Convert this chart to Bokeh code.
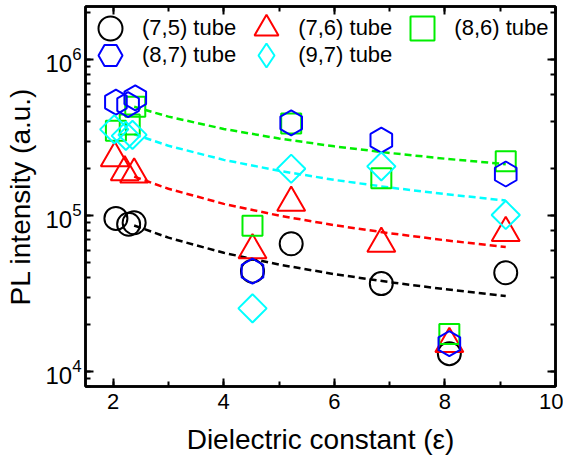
import numpy as np
from bokeh.plotting import figure
from bokeh.models import (Range1d, LinearAxis, LogAxis, Legend, LegendItem,
                          SingleIntervalTicker, LogTicker, CustomLabelingPolicy)
from bokeh.embed import file_html
from bokeh.resources import INLINE

# ---------------- data ----------------
x75 = [2.05, 2.28, 2.38, 4.52, 5.22, 6.85, 8.08, 9.10]
y75 = [9.6e4, 8.8e4, 9.0e4, 4.4e4, 6.6e4, 3.66e4, 1.3e4, 4.3e4]

x76 = [2.03, 2.21, 2.38, 4.52, 5.22, 6.85, 8.08, 9.10]
y76 = [2.34e5, 1.90e5, 1.84e5, 6.0e4, 1.21e5, 6.6e4, 1.5e4, 7.75e4]

x86 = [2.05, 2.30, 2.40, 4.52, 5.22, 6.85, 8.08, 9.10]
y86 = [3.5e5, 3.85e5, 5.0e5, 8.6e4, 3.9e5, 1.74e5, 1.74e4, 2.23e5]

x87 = [2.05, 2.27, 2.40, 4.52, 5.22, 6.85, 8.08, 9.10]
y87 = [5.36e5, 5.15e5, 5.7e5, 4.4e4, 3.94e5, 3.05e5, 1.51e4, 1.85e5]

x97 = [2.02, 2.23, 2.35, 4.52, 5.22, 6.85, 9.10]
y97 = [3.58e5, 3.25e5, 3.3e5, 2.54e4, 2.0e5, 2.07e5, 1.01e5]

# dashed fit curves (read at a few dielectric constants)
fit_x = [2.38, 3.0, 4.0, 5.0, 6.0, 7.0, 8.0, 9.1]
fit75 = [8.64e4, 7.22e4, 5.77e4, 4.85e4, 4.21e4, 3.74e4, 3.37e4, 3.05e4]
fit76 = [1.78e5, 1.487e5, 1.19e5, 1.0e5, 8.68e4, 7.71e4, 6.95e4, 6.28e4]
fit86 = [5.0e5, 4.32e5, 3.60e5, 3.125e5, 2.785e5, 2.525e5, 2.32e5, 2.14e5]
fit97 = [3.33e5, 2.81e5, 2.28e5, 1.94e5, 1.695e5, 1.515e5, 1.375e5, 1.25e5]

labels = ["(7,5) tube", "(7,6) tube", "(8,6) tube", "(8,7) tube", "(9,7) tube"]

# ---------------- figure ----------------
FONT = "Liberation Sans"
W, H = 563, 457
MT, MB, ML, MR = 6, 67, 85, 8
FH = H - MT - MB

p = figure(width=W, height=H,
           x_range=Range1d(1.5, 10), y_range=Range1d(8e3, 2.2e6),
           y_axis_type="log", output_backend="svg", toolbar_location=None,
           min_border_left=ML, min_border_right=MR, min_border_top=MT,
           min_border_bottom=MB)
p.grid.visible = False
p.outline_line_color = "black"
p.outline_line_width = 2.5
p.background_fill_color = "white"
p.border_fill_color = "white"

no_labels = CustomLabelingPolicy(code="for (const i of indices) { indices.unset(i) }\nreturn indices")


def style_axis(ax, show_labels=True):
    ax.axis_line_color = "black"
    ax.axis_line_width = 2.5
    ax.major_tick_line_color = "black"
    ax.major_tick_line_width = 2
    ax.minor_tick_line_color = "black"
    ax.minor_tick_line_width = 2
    ax.major_tick_in = 8
    ax.major_tick_out = 0
    ax.minor_tick_in = 5
    ax.minor_tick_out = 0
    ax.major_label_text_font = FONT
    ax.major_label_text_color = "black"
    ax.major_label_text_font_size = "22px"
    ax.axis_label_text_font = FONT
    ax.axis_label_text_font_style = "normal"
    ax.axis_label_text_color = "black"
    ax.axis_label_text_font_size = "28px"
    if not show_labels:
        ax.major_label_policy = no_labels
        ax.major_label_standoff = 0
        ax.major_label_text_font_size = "1px"


xt = SingleIntervalTicker(interval=2, num_minor_ticks=2)
p.xaxis.ticker = xt
p.xaxis.axis_label = "Dielectric constant (\u03b5)"
p.yaxis.axis_label = "PL intensity (a.u.)"
for ax in p.xaxis:
    style_axis(ax)
    ax.major_label_standoff = 7
    ax.axis_label_standoff = 12
for ax in p.yaxis:
    style_axis(ax)
    ax.major_label_text_font_size = "24px"
    ax.major_label_standoff = 4
    ax.axis_label_standoff = 6

top = LinearAxis(ticker=SingleIntervalTicker(interval=2, num_minor_ticks=2))
style_axis(top, False)
p.add_layout(top, "above")
right = LogAxis(ticker=LogTicker())
style_axis(right, False)
p.add_layout(right, "right")

# ---------------- fit lines ----------------
dash = "7 4"
p.line(fit_x, fit75, line_color="black", line_width=2.5, line_dash=dash)
p.line(fit_x, fit76, line_color="#ff0000", line_width=2.5, line_dash=dash)
p.line(fit_x, fit86, line_color="#00ee00", line_width=2.5, line_dash=dash)
p.line(fit_x, fit97, line_color="#00ffff", line_width=2.5, line_dash=dash)

# ---------------- markers ----------------
r75 = p.scatter(x75, y75, marker="circle", size=23, fill_alpha=0,
                line_color="black", line_width=2)
r76 = p.scatter(x76, y76, marker="triangle", size=28, fill_alpha=0,
                line_color="#ff0000", line_width=2)
r86 = p.scatter(x86, y86, marker="square", size=20, fill_alpha=0,
                line_color="#00ee00", line_width=2)
r87 = p.scatter(x87, y87, marker="hex", size=25, angle=np.pi / 6, fill_alpha=0,
                line_color="#0000ff", line_width=2)
r97 = p.scatter(x97, y97, marker="square", size=20, angle=np.pi / 4, fill_alpha=0,
                line_color="#00ffff", line_width=2)
# legend-only key for the diamond (legend keys ignore marker rotation)
k97 = p.scatter(np.array([np.nan]), np.array([np.nan]), marker="diamond", size=20,
                fill_alpha=0, line_color="#00ffff", line_width=2)
keys = [r75, r76, r86, r87, k97]


def make_legend(idx, top_off):
    leg = Legend(items=[LegendItem(label=labels[i], renderers=[keys[i]]) for i in idx],
                 orientation="horizontal",
                 location=(-5, FH - top_off - 60),
                 glyph_width=60, glyph_height=60, label_standoff=2, spacing=-3,
                 padding=0, margin=0, border_line_alpha=0, background_fill_alpha=0,
                 label_text_font=FONT, label_text_font_size="22px",
                 label_text_color="black")
    return leg


p.add_layout(make_legend([0, 1, 2], -4))
p.add_layout(make_legend([3, 4], 23))

open("out.html", "w").write(file_html(p, INLINE))
